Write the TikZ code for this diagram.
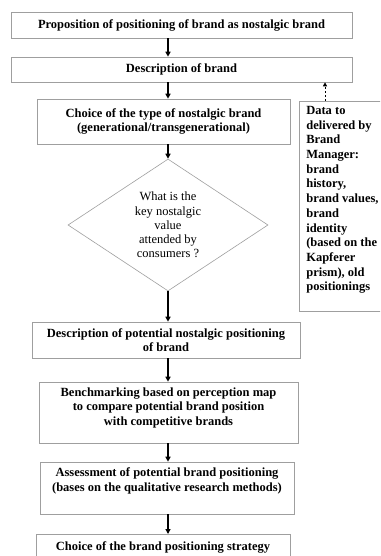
\documentclass[tikz,border=0pt]{standalone}
\usepackage{fontspec}
\setmainfont{Liberation Serif}
\usetikzlibrary{arrows.meta, shapes.geometric, positioning}

\tikzset{
  box/.style={draw=gray!75, line width=0.6pt, align=center, inner sep=2pt,
    font=\fontsize{12.5}{14.5}\selectfont\bfseries},
  decision/.style={diamond, draw=gray!75, line width=0.6pt, align=center, inner sep=0pt,
    font=\fontsize{12.5}{14.2}\selectfont},
  datbox/.style={draw=gray!75, line width=0.6pt, inner xsep=7pt, inner ysep=5pt,
    font=\fontsize{12.5}{14.7}\selectfont\bfseries},
  flow/.style={-{Triangle[length=5pt,width=5pt]}, line width=1.6pt},
}

\begin{document}
\begin{tikzpicture}[x=1pt,y=-1pt]
        \useasboundingbox (0,0) rectangle (380,556);
        \clip (0,0) rectangle (380,556);
        \fill[white] (0,0) rectangle (380,556);
        %main column of steps
        \node[box, minimum width=341pt, minimum height=26pt] (prop) at (181.5,25) {Proposition of positioning of brand as nostalgic brand};
        \node[box, minimum width=341pt, minimum height=25pt] (desc) at (181.5,69.5) {Description of brand};
        \node[box, minimum width=253pt, minimum height=45pt] (type) at (163.5,121.5) {Choice of the type of nostalgic brand\\(generational/transgenerational)};
        \node[decision, minimum width=200pt, minimum height=124pt] (key) at (168,225) {What is the\\key nostalgic\\value\\attended by\\consumers ?};
        \node[box, minimum width=268pt, minimum height=36pt] (potential) at (166,340) {Description of potential nostalgic positioning\\of brand};
        \node[box, minimum width=259pt, minimum height=61pt, text depth=12pt] (bench) at (168.5,412.5) {Benchmarking based on perception map\\to compare potential brand position\\with competitive brands};
        \node[box, minimum width=254pt, minimum height=52pt, text depth=17pt] (assess) at (167,488) {Assessment of potential brand positioning\\(bases on the qualitative research methods)};
        \node[box, minimum width=254pt, minimum height=26pt, anchor=north] (strategy) at (163,534) {Choice of the brand positioning strategy};
        %side box
        \node[datbox, anchor=north west] (data) at (299,101) {\parbox[c][200pt][t]{90pt}{\raggedright Data to\\delivered by\\Brand\\Manager:\\brand\\history,\\brand values,\\brand\\identity\\(based on the\\Kapferer\\prism), old\\positionings}};
        %arrows
        \draw[flow] (prop.south -| 168,0) -- (desc.north -| 168,0);
        \draw[flow] (desc.south -| 168,0) -- (type.north -| 168,0);
        \draw[flow] (type.south -| 168,0) -- (key.north);
        \draw[flow] (key.south) -- (potential.north -| 168,0);
        \draw[flow] (potential.south -| 168,0) -- (bench.north -| 168,0);
        \draw[flow] (bench.south -| 168,0) -- (assess.north -| 168,0);
        \draw[flow] (assess.south -| 168,0) -- (strategy.north -| 168,0);
        \draw[-{Triangle[length=4pt,width=4pt]}, line width=1pt, dash pattern=on 2pt off 2pt] (data.north -| 325,0) -- (desc.south -| 325,0);
\end{tikzpicture}
\end{document}
